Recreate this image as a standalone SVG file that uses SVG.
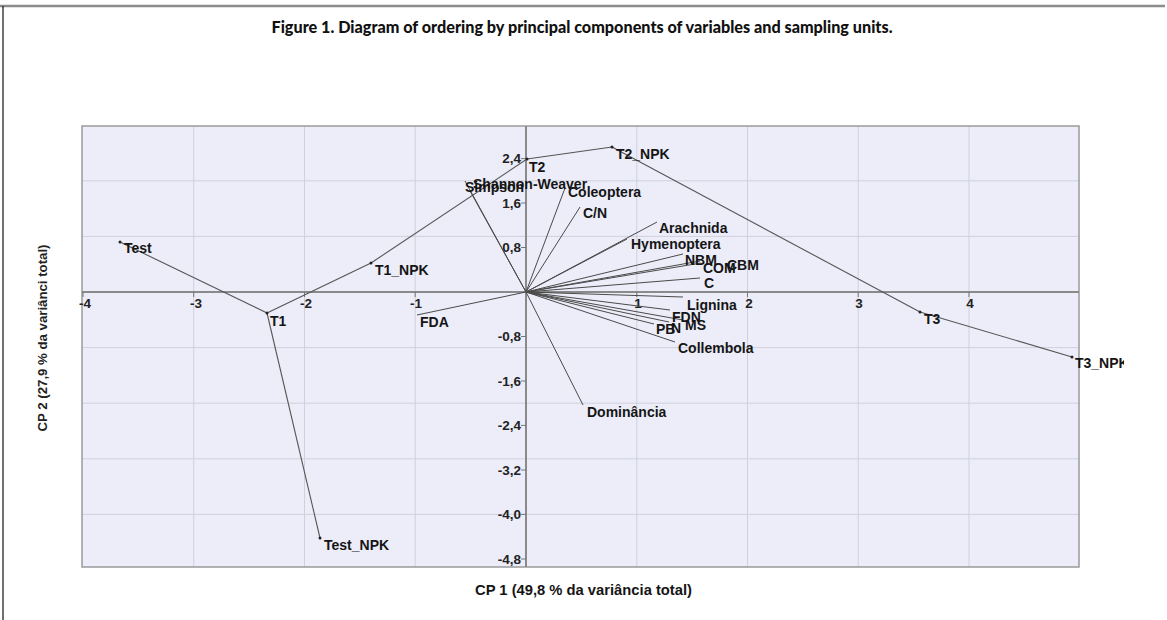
<svg xmlns="http://www.w3.org/2000/svg" width="1167" height="620" viewBox="0 0 1167 620">
<defs>
<style>
.t{font-family:"Liberation Sans",Arial,sans-serif;font-weight:bold;font-size:14px;fill:#151515}
.tk{font-family:"Liberation Sans",Arial,sans-serif;font-weight:bold;font-size:13.5px;fill:#222}
.grid{stroke:#cfd0dc;stroke-width:1;fill:none}
.ax{stroke:#8a8a8a;stroke-width:2;fill:none}
.vec{stroke:#4a4a4a;stroke-width:1;fill:none}
.lnk{stroke:#555;stroke-width:1.1;fill:none}
.pt{fill:#222}
</style>
<clipPath id="clipR"><rect x="0" y="0" width="1124" height="620"/></clipPath>
</defs>
<rect x="0" y="0" width="1167" height="620" fill="#ffffff"/>
<line x1="0" y1="6" x2="1165" y2="6" stroke="#8c8c8c" stroke-width="2.5"/>
<line x1="3" y1="6" x2="3" y2="620" stroke="#111" stroke-width="1.2"/>
<text x="582" y="33" text-anchor="middle" font-family="Lato,'Open Sans',sans-serif" font-weight="900" font-size="17" fill="#111" textLength="621" lengthAdjust="spacingAndGlyphs">Figure 1. Diagram of ordering by principal components of variables and sampling units.</text>

<g id="plot-area">
<rect x="82" y="126" width="997" height="441" fill="#ecedf9" stroke="none"/>
<g id="grid">
<line class="grid" x1="193.7" y1="126" x2="193.7" y2="567"/>
<line class="grid" x1="304.5" y1="126" x2="304.5" y2="567"/>
<line class="grid" x1="415.2" y1="126" x2="415.2" y2="567"/>
<line class="grid" x1="636.8" y1="126" x2="636.8" y2="567"/>
<line class="grid" x1="747.5" y1="126" x2="747.5" y2="567"/>
<line class="grid" x1="858.2" y1="126" x2="858.2" y2="567"/>
<line class="grid" x1="969" y1="126" x2="969" y2="567"/>
<line class="grid" x1="82" y1="180.8" x2="1079" y2="180.8"/>
<line class="grid" x1="82" y1="236.4" x2="1079" y2="236.4"/>
<line class="grid" x1="82" y1="347.6" x2="1079" y2="347.6"/>
<line class="grid" x1="82" y1="403.2" x2="1079" y2="403.2"/>
<line class="grid" x1="82" y1="458.8" x2="1079" y2="458.8"/>
<line class="grid" x1="82" y1="514.4" x2="1079" y2="514.4"/>
</g>
<rect x="82" y="126" width="997" height="441" fill="none" stroke="#9a9a9a" stroke-width="1.5"/>
<g id="axes">
<line class="ax" x1="82" y1="292" x2="1079" y2="292"/>
<line class="ax" x1="526" y1="126" x2="526" y2="567"/>
<g stroke="#777" stroke-width="1">
<line x1="83" y1="292" x2="83" y2="297"/><line x1="193.7" y1="292" x2="193.7" y2="297"/><line x1="304.5" y1="292" x2="304.5" y2="297"/><line x1="415.2" y1="292" x2="415.2" y2="297"/><line x1="636.8" y1="292" x2="636.8" y2="297"/><line x1="747.5" y1="292" x2="747.5" y2="297"/><line x1="858.2" y1="292" x2="858.2" y2="297"/><line x1="969" y1="292" x2="969" y2="297"/>
<line x1="521" y1="158.6" x2="526" y2="158.6"/><line x1="521" y1="203" x2="526" y2="203"/><line x1="521" y1="247.5" x2="526" y2="247.5"/><line x1="521" y1="336.5" x2="526" y2="336.5"/><line x1="521" y1="381" x2="526" y2="381"/><line x1="521" y1="425.4" x2="526" y2="425.4"/><line x1="521" y1="470" x2="526" y2="470"/><line x1="521" y1="514.4" x2="526" y2="514.4"/><line x1="521" y1="559" x2="526" y2="559"/>
</g>
<g class="tk" text-anchor="middle">
<text x="85" y="308">-4</text><text x="196" y="308">-3</text><text x="306" y="308">-2</text><text x="416" y="308">-1</text><text x="638" y="308">1</text><text x="749" y="308">2</text><text x="859" y="308">3</text><text x="970" y="308">4</text>
</g>
<g class="tk" text-anchor="end">
<text x="521" y="163">2,4</text><text x="521" y="208">1,6</text><text x="521" y="252">0,8</text><text x="521" y="341">-0,8</text><text x="521" y="386">-1,6</text><text x="521" y="430">-2,4</text><text x="521" y="475">-3,2</text><text x="521" y="519">-4,0</text><text x="521" y="564">-4,8</text>
</g>
</g>
</g>

<text class="t" x="475" y="595" textLength="217" lengthAdjust="spacingAndGlyphs">CP 1 (49,8 % da variância total)</text>
<text class="tk" transform="translate(47,338) rotate(-90)" text-anchor="middle" textLength="187" lengthAdjust="spacingAndGlyphs">CP 2 (27,9 % da variânci total)</text>

<g id="connectors">
<g id="sample-links">
<line class="lnk" x1="120" y1="242" x2="267" y2="313"/>
<line class="lnk" x1="267" y1="313" x2="371" y2="263"/>
<line class="lnk" x1="267" y1="313" x2="320" y2="538"/>
<line class="lnk" x1="371" y1="263" x2="527" y2="159"/>
<line class="lnk" x1="527" y1="159" x2="612" y2="147"/>
<line class="lnk" x1="612" y1="147" x2="920" y2="312"/>
<line class="lnk" x1="920" y1="312" x2="1072" y2="357"/>
</g>
<g id="variable-vectors">
<line class="vec" x1="526" y1="292" x2="465" y2="181"/>
<line class="vec" x1="526" y1="292" x2="470" y2="191"/>
<line class="vec" x1="526" y1="292" x2="565" y2="188"/>
<line class="vec" x1="526" y1="292" x2="580" y2="207"/>
<line class="vec" x1="526" y1="292" x2="657" y2="222"/>
<line class="vec" x1="526" y1="292" x2="627" y2="239"/>
<line class="vec" x1="526" y1="292" x2="683" y2="254"/>
<line class="vec" x1="526" y1="292" x2="700" y2="261"/>
<line class="vec" x1="526" y1="292" x2="701" y2="263"/>
<line class="vec" x1="526" y1="292" x2="700" y2="278"/>
<line class="vec" x1="526" y1="292" x2="683" y2="297"/>
<line class="vec" x1="526" y1="292" x2="670" y2="310"/>
<line class="vec" x1="526" y1="292" x2="683" y2="320"/>
<line class="vec" x1="526" y1="292" x2="669" y2="322"/>
<line class="vec" x1="526" y1="292" x2="654" y2="324"/>
<line class="vec" x1="526" y1="292" x2="675" y2="342"/>
<line class="vec" x1="526" y1="292" x2="583" y2="405"/>
<line class="vec" x1="526" y1="292" x2="417" y2="315"/>
</g>
</g>

<g id="samples">
<g id="s-test"><circle class="pt" cx="120" cy="242" r="1.5"/><text class="t" x="124" y="253">Test</text></g>
<g id="s-t1"><circle class="pt" cx="267" cy="313" r="1.5"/><text class="t" x="270" y="326">T1</text></g>
<g id="s-t1npk"><circle class="pt" cx="371" cy="263" r="1.5"/><text class="t" x="375" y="275">T1_NPK</text></g>
<g id="s-testnpk"><circle class="pt" cx="320" cy="538" r="1.5"/><text class="t" x="324" y="550">Test_NPK</text></g>
<g id="s-t2"><circle class="pt" cx="527" cy="159" r="1.5"/><text class="t" x="529" y="172">T2</text></g>
<g id="s-t2npk"><circle class="pt" cx="612" cy="147" r="1.5"/><text class="t" x="616" y="159">T2_NPK</text></g>
<g id="s-t3"><circle class="pt" cx="920" cy="312" r="1.5"/><text class="t" x="924" y="324">T3</text></g>
<g id="s-t3npk"><circle class="pt" cx="1072" cy="357" r="1.5"/><text class="t" x="1075" y="368" clip-path="url(#clipR)">T3_NPK</text></g>
</g>

<g id="variables">
<g id="v-shannon"><text class="t" x="473" y="189">Shannon-Weaver</text></g>
<g id="v-simpson"><text class="t" x="465" y="192">Simpson</text></g>
<g id="v-coleoptera"><text class="t" x="568" y="197">Coleoptera</text></g>
<g id="v-cn"><text class="t" x="583" y="218">C/N</text></g>
<g id="v-arachnida"><text class="t" x="659" y="233">Arachnida</text></g>
<g id="v-hymenoptera"><text class="t" x="631" y="249">Hymenoptera</text></g>
<g id="v-nbm"><text class="t" x="685" y="265">NBM</text></g>
<g id="v-cbm"><text class="t" x="727" y="270">CBM</text></g>
<g id="v-com"><text class="t" x="703" y="273">COM</text></g>
<g id="v-c"><text class="t" x="704" y="288">C</text></g>
<g id="v-lignina"><text class="t" x="687" y="310">Lignina</text></g>
<g id="v-fdn"><text class="t" x="672" y="322">FDN</text></g>
<g id="v-ms"><text class="t" x="685" y="330">MS</text></g>
<g id="v-n"><text class="t" x="671" y="333">N</text></g>
<g id="v-pb"><text class="t" x="656" y="334">PB</text></g>
<g id="v-collembola"><text class="t" x="678" y="353">Collembola</text></g>
<g id="v-dominancia"><text class="t" x="587" y="417">Dominância</text></g>
<g id="v-fda"><text class="t" x="420" y="327">FDA</text></g>
</g>
</svg>
